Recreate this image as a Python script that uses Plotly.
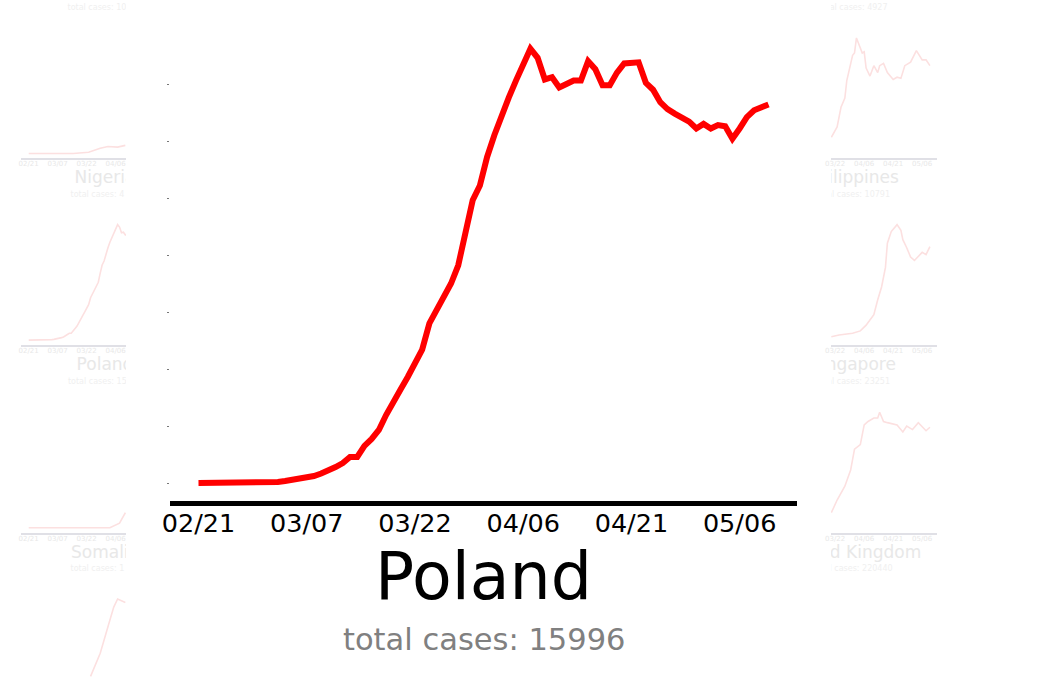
import pandas as pd
import plotly.graph_objects as go

W, H = 1061, 679

# ---------------- main chart data ----------------
START = "2020-02-21"
POLAND_NEW_CASES = [
    0, 0, 0, 0, 0, 0, 0, 0, 0, 0,
    0.4, 0.9, 1.8, 2.6, 3.5, 4.4, 6.1, 8.3, 10.5, 14,
    17.5, 22.8, 22.8, 32.5, 38.6, 46.5, 59.6, 72, 82, 93,
    104, 117, 140, 152, 164, 175, 191, 221, 248, 261,
    286, 305, 323, 338, 353, 367, 381, 373, 354, 356,
    347, 350, 353, 353, 370, 363, 349, 349, 360, 368,
    369, 369, 351, 345, 334, 328, 324, 321, 317, 311,
    315, 311, 314, 313, 302, 311, 321, 327, 330, 332,
]
TICK_DATES = ["2020-02-21", "2020-03-07", "2020-03-22", "2020-04-06", "2020-04-21", "2020-05-06"]
TICK_LABELS = ["02/21", "03/07", "03/22", "04/06", "04/21", "05/06"]
Y_TICKS = [0, 50, 100, 150, 200, 250, 300, 350]
COUNTRY = "Poland"
TOTAL_CASES = 15996

# ---------------- faint background panels (values relative to own max) ----------------
NIGERIA_DAYS = [0, 23, 31, 37, 41, 46, 50]
NIGERIA_VALUES = [0, 0, 0.01, 0.045, 0.06, 0.055, 0.07]
SOMALIA_DAYS = [0, 42, 47, 50]
SOMALIA_VALUES = [0, 0, 0.04, 0.13]
ROW4_LEFT_DAYS = [32, 37, 41, 44, 46, 50]
ROW4_LEFT_VALUES = [0.33, 0.53, 0.76, 0.93, 1.0, 0.97]
PHILIPPINES_DAYS = [28, 31, 33, 35, 36, 39, 40, 41, 44, 45, 46, 48, 50, 52, 53, 55, 57, 60, 62, 64, 66, 69, 72, 75, 77, 79]
PHILIPPINES_VALUES = [0.14, 0.23, 0.40, 0.48, 0.63, 0.85, 0.87, 1.0, 0.87, 0.88, 0.74, 0.67, 0.76, 0.70, 0.76, 0.78, 0.70, 0.64, 0.66, 0.65, 0.76, 0.79, 0.89, 0.81, 0.81, 0.76]
SINGAPORE_DAYS = [28, 32, 39, 43, 46, 50, 52, 54, 56, 57, 59, 62, 64, 65, 67, 69, 71, 74, 75, 77, 79]
SINGAPORE_VALUES = [0.03, 0.045, 0.06, 0.08, 0.13, 0.22, 0.35, 0.46, 0.63, 0.84, 0.94, 1.0, 0.95, 0.87, 0.80, 0.72, 0.69, 0.74, 0.76, 0.74, 0.81]
UK_DAYS = [28, 31, 35, 38, 40, 43, 45, 47, 50, 52, 53, 55, 57, 62, 65, 67, 70, 73, 77, 79]
UK_VALUES = [0.13, 0.24, 0.36, 0.50, 0.68, 0.72, 0.89, 0.92, 0.95, 0.95, 1.0, 0.92, 0.91, 0.89, 0.83, 0.88, 0.85, 0.91, 0.84, 0.87]

# ---------------- styling ----------------
FONT = "DejaVu Sans"
RED = "#ff0000"
FAINT_RED = "rgb(252,224,224)"
FAINT_AXIS = "rgb(224,224,230)"
FAINT_TITLE = "rgb(232,232,232)"
FAINT_SMALL = "rgb(240,240,240)"

t0 = pd.Timestamp(START)


def day(d):
    return t0 + pd.Timedelta(days=d)


def px_x(p):
    return p / W


def px_y(p):
    return 1 - p / H


poland_dates = pd.date_range(START, periods=len(POLAND_NEW_CASES), freq="D")

fig = go.Figure()

# main line
fig.add_trace(go.Scatter(x=poland_dates, y=POLAND_NEW_CASES, mode="lines",
                         line=dict(color=RED, width=6), hoverinfo="skip",
                         xaxis="x", yaxis="y"))

layout = dict(
    width=W, height=H, margin=dict(l=0, r=0, t=0, b=0, pad=0, autoexpand=False),
    paper_bgcolor="white", plot_bgcolor="rgba(0,0,0,0)",
    showlegend=False, font=dict(family=FONT),
)

layout["xaxis"] = dict(
    domain=[px_x(170), px_x(797)],
    range=[day(-3.95), day(82.95)],
    tickvals=TICK_DATES, ticktext=TICK_LABELS,
    tickfont=dict(size=25.5, color="black", family=FONT),
    ticklabelstandoff=-5,
    showline=True, linecolor="black", linewidth=5,
    ticks="", showgrid=False, zeroline=False, automargin=False,
)
layout["yaxis"] = dict(
    domain=[px_y(501), px_y(27)],
    range=[-(501 - 483) / 1.14, (483 - 27) / 1.14],
    tickvals=Y_TICKS, showticklabels=False,
    ticks="outside", ticklen=2, tickwidth=1, tickcolor="#777",
    showgrid=False, zeroline=False, showline=False, automargin=False,
)

# faint panels: (days, values, column, row)
ROW_AXIS_Y = {1: 159, 2: 345.7, 3: 533.3, 4: 720}
pol_max = max(POLAND_NEW_CASES)
panels = [
    (list(range(len(POLAND_NEW_CASES))), [v / pol_max for v in POLAND_NEW_CASES], "L", 2),
    (NIGERIA_DAYS, NIGERIA_VALUES, "L", 1),
    (SOMALIA_DAYS, SOMALIA_VALUES, "L", 3),
    (ROW4_LEFT_DAYS, ROW4_LEFT_VALUES, "L", 4),
    (PHILIPPINES_DAYS, PHILIPPINES_VALUES, "R", 1),
    (SINGAPORE_DAYS, SINGAPORE_VALUES, "R", 2),
    (UK_DAYS, UK_VALUES, "R", 3),
]
SCALE = 115.5  # px per unit of normalised value
PANEL_H = 127
for i, (days, vals, col, row) in enumerate(panels):
    n = i + 2
    xa, ya = f"x{n}", f"y{n}"
    if col == "L":
        xdom = [px_x(21), px_x(126)]
        xr = [day((21 - 28.7) / 1.933), day((126 - 28.7) / 1.933)]
    else:
        xdom = [px_x(831), px_x(937)]
        xr = [day((831 - 777.2) / 1.933), day((937 - 777.2) / 1.933)]
    axis_y = ROW_AXIS_Y[row]
    bottom = axis_y - 0.75
    top = bottom - PANEL_H
    base = bottom - 4.8
    vis_bottom = min(bottom, H)
    ydom = [px_y(vis_bottom), px_y(top)]
    yr = [(base - vis_bottom) / SCALE, (base - top) / SCALE]
    fig.add_trace(go.Scatter(x=[day(d) for d in days], y=vals, mode="lines",
                             line=dict(color=FAINT_RED, width=1.6), hoverinfo="skip",
                             xaxis=xa, yaxis=ya))
    layout[f"xaxis{n}"] = dict(
        domain=xdom, range=xr, anchor=ya,
        tickvals=TICK_DATES, ticktext=TICK_LABELS,
        tickfont=dict(size=7, color=FAINT_TITLE, family=FONT),
        ticklabelstandoff=-2,
        showline=bottom <= H, linecolor=FAINT_AXIS, linewidth=1.5,
        showticklabels=bottom <= H,
        ticks="", showgrid=False, zeroline=False, automargin=False,
    )
    layout[f"yaxis{n}"] = dict(domain=ydom, range=yr, anchor=xa, visible=False, automargin=False)

# clipping axes for faint texts
LEFT_CENTER, RIGHT_CENTER = 105, 853
TITLE_OFFSET, TOTAL_OFFSET = 20, 36
texts_left = [
    (LEFT_CENTER, ROW_AXIS_Y[1] + TITLE_OFFSET, "Nigeria", 17, FAINT_TITLE, "middle center"),
    (LEFT_CENTER, ROW_AXIS_Y[2] + TITLE_OFFSET, "Poland", 17, FAINT_TITLE, "middle center"),
    (LEFT_CENTER, ROW_AXIS_Y[3] + TITLE_OFFSET, "Somalia", 17, FAINT_TITLE, "middle center"),
    (LEFT_CENTER, ROW_AXIS_Y[2] + TOTAL_OFFSET, f"total cases: {TOTAL_CASES}", 8, FAINT_SMALL, "middle center"),
    (67.5, ROW_AXIS_Y[1] - 187 + TOTAL_OFFSET, "total cases: 10", 8, FAINT_SMALL, "middle right"),
    (70.5, ROW_AXIS_Y[1] + TOTAL_OFFSET, "total cases: 4", 8, FAINT_SMALL, "middle right"),
    (70.5, ROW_AXIS_Y[3] + TOTAL_OFFSET, "total cases: 1", 8, FAINT_SMALL, "middle right"),
]
texts_right = [
    (RIGHT_CENTER, ROW_AXIS_Y[1] + TITLE_OFFSET, "Philippines", 17, FAINT_TITLE, "middle center"),
    (RIGHT_CENTER, ROW_AXIS_Y[2] + TITLE_OFFSET, "Singapore", 17, FAINT_TITLE, "middle center"),
    (RIGHT_CENTER, ROW_AXIS_Y[3] + TITLE_OFFSET, "United Kingdom", 17, FAINT_TITLE, "middle center"),
    (RIGHT_CENTER, ROW_AXIS_Y[1] - 187 + TOTAL_OFFSET, "total cases: 4927", 8, FAINT_SMALL, "middle center"),
    (RIGHT_CENTER, ROW_AXIS_Y[1] + TOTAL_OFFSET, "total cases: 10791", 8, FAINT_SMALL, "middle center"),
    (RIGHT_CENTER, ROW_AXIS_Y[2] + TOTAL_OFFSET, "total cases: 23251", 8, FAINT_SMALL, "middle center"),
    (RIGHT_CENTER, ROW_AXIS_Y[3] + TOTAL_OFFSET, "total cases: 220440", 8, FAINT_SMALL, "middle center"),
]
for n, texts, (x0, x1) in [(20, texts_left, (0, 126)), (21, texts_right, (831, W))]:
    for (tx, ty, s, size, color, pos) in texts:
        fig.add_trace(go.Scatter(x=[tx], y=[ty], mode="text", text=[s], textposition=pos,
                                 textfont=dict(size=size, color=color, family=FONT),
                                 cliponaxis=True, hoverinfo="skip",
                                 xaxis=f"x{n}", yaxis=f"y{n}"))
    layout[f"xaxis{n}"] = dict(domain=[px_x(x0), px_x(x1)], range=[x0, x1],
                               anchor=f"y{n}", visible=False, automargin=False)
    layout[f"yaxis{n}"] = dict(domain=[0, 1], range=[H, 0], anchor=f"x{n}",
                               visible=False, automargin=False)

layout["annotations"] = [
    dict(text=COUNTRY, x=px_x(483), y=px_y(576), xref="paper", yref="paper",
         xanchor="center", yanchor="middle", showarrow=False,
         font=dict(size=65, color="black", family=FONT)),
    dict(text=f"total cases: {TOTAL_CASES}", x=px_x(483.5), y=px_y(639), xref="paper", yref="paper",
         xanchor="center", yanchor="middle", showarrow=False,
         font=dict(size=30.5, color="#808080", family=FONT)),
]

fig.update_layout(**layout)
fig.write_html("out.html")
